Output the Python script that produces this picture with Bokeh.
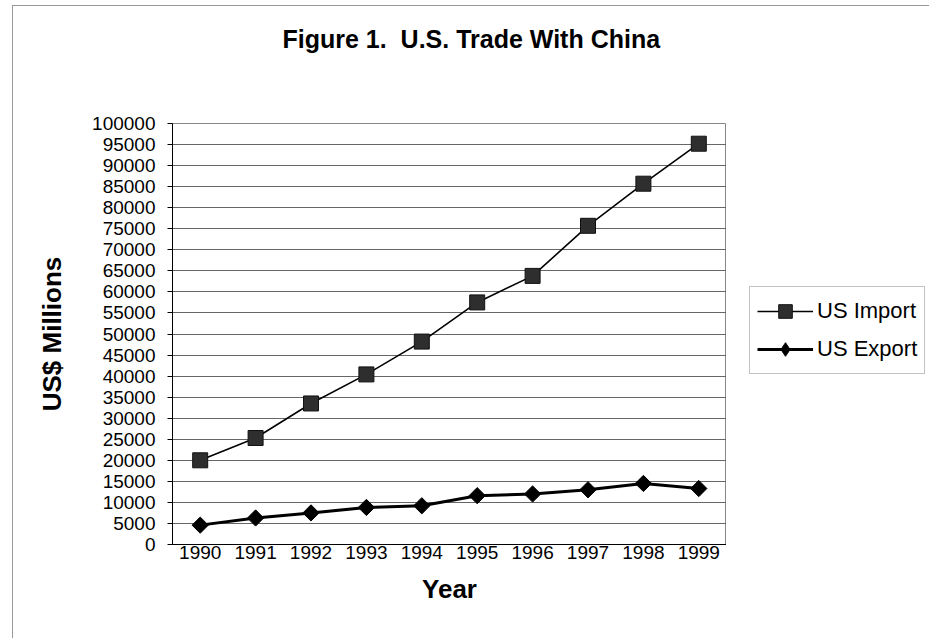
import math
from bokeh.plotting import figure
from bokeh.layouts import row
from bokeh.models import (FactorRange, Range1d, FixedTicker, Legend, LegendItem, ColumnDataSource,
                          BasicTickFormatter, Title)
from bokeh.embed import file_html
from bokeh.resources import INLINE

years = ["1990", "1991", "1992", "1993", "1994", "1995", "1996", "1997", "1998", "1999"]
us_import = [20000, 25300, 33500, 40400, 48200, 57500, 63800, 75700, 85700, 95200]
us_export = [4600, 6300, 7500, 8800, 9200, 11600, 12000, 13000, 14500, 13300]
y_ticks = list(range(0, 100001, 5000))
series_names = ["US Import", "US Export"]

FONT = "Liberation Sans"

p = figure(width=713, height=632, x_range=FactorRange(*years), y_range=Range1d(0, 100000),
           output_backend="svg", toolbar_location=None,
           min_border_left=159, min_border_right=0, min_border_top=117, min_border_bottom=94,
           background_fill_color="white", border_fill_color="white")

# spacer title (keeps the main title high above the plot area)
p.add_layout(Title(text="\u00a0", text_font_size="1px", standoff=63), "above")

p.title.text = "Figure 1.\u00a0 U.S. Trade With China"
p.title.text_font = FONT
p.title.text_font_size = "25px"
p.title.text_font_style = "bold"
p.title.text_color = "black"
p.title.align = "left"
p.title.offset = 110
p.title.standoff = 10

p.outline_line_color = "#888888"
p.xgrid.grid_line_color = None

# y axis
ya = p.yaxis[0]
ya.ticker = FixedTicker(ticks=y_ticks)
ya.formatter = BasicTickFormatter(use_scientific=False)
ya.major_label_text_font = FONT
ya.major_label_text_font_size = "19px"
ya.major_label_text_color = "black"
ya.major_tick_out = 5
ya.major_tick_in = 0
ya.minor_tick_line_color = None
ya.major_label_standoff = 12
ya.axis_line_color = "black"
ya.axis_label = "US$ Millions"
ya.axis_label_text_font = FONT
ya.axis_label_text_font_size = "26px"
ya.axis_label_text_font_style = "bold"
ya.axis_label_text_color = "black"
ya.axis_label_standoff = 22

p.ygrid.ticker = FixedTicker(ticks=y_ticks)
p.ygrid.grid_line_color = "#666666"
p.ygrid.grid_line_width = 1

xa = p.xaxis[0]
xa.axis_line_color = "black"
xa.major_tick_line_color = None
xa.major_tick_out = 0
xa.major_tick_in = 0
xa.minor_tick_line_color = None
xa.major_label_standoff = 1
xa.major_label_text_font = FONT
xa.major_label_text_font_size = "19px"
xa.major_label_text_color = "black"
xa.axis_label = "Year"
xa.axis_label_text_font = FONT
xa.axis_label_text_font_size = "26px"
xa.axis_label_text_font_style = "bold"
xa.axis_label_text_color = "black"
xa.axis_label_standoff = 12

src = ColumnDataSource(dict(year=years, imp=us_import, exp=us_export))
p.line("year", "imp", source=src, line_color="black", line_width=1.6)
p.scatter("year", "imp", source=src, marker="square", size=15,
          fill_color="#2e2e2e", line_color="#111111")
p.line("year", "exp", source=src, line_color="black", line_width=3)
p.scatter("year", "exp", source=src, marker="square", angle=math.pi / 4, size=11.5,
          fill_color="black", line_color="black")

# legend panel to the right of the plot area (hidden copies of the series feed its glyphs)
lg = figure(width=203, height=632, x_range=FactorRange(*years), y_range=Range1d(0, 100000),
            x_axis_location=None, y_axis_location=None, toolbar_location=None,
            output_backend="svg", min_border=0, outline_line_color=None,
            background_fill_color="white", border_fill_color="white")
lg.grid.visible = False
l1 = lg.line("year", "imp", source=src, line_color="black", line_width=1.6, visible=False)
s1 = lg.scatter("year", "imp", source=src, marker="square", size=15, fill_color="#2e2e2e",
                line_color="#111111", visible=False)
l2 = lg.line("year", "exp", source=src, line_color="black", line_width=3, visible=False)
s2 = lg.scatter("year", "exp", source=src, marker="diamond", size=21, fill_color="black",
                line_color="black", visible=False)

legend = Legend(items=[LegendItem(label=series_names[0], renderers=[l1, s1]),
                       LegendItem(label=series_names[1], renderers=[l2, s2])],
                location=(23, 170), margin=0, padding=7, spacing=4,
                glyph_width=56, glyph_height=34,
                label_standoff=4, label_text_font=FONT, label_text_font_size="22px",
                label_text_color="black", label_height=34,
                border_line_color="#888888", border_line_width=1,
                background_fill_color="white", background_fill_alpha=1,
                inactive_fill_alpha=0, click_policy="none")
lg.add_layout(legend, "center")

layout = row(p, lg, styles={"margin-left": "12px", "margin-top": "5px",
                            "border-left": "1px solid #999", "border-top": "1px solid #999"})

open("out.html", "w").write(file_html(layout, INLINE))
